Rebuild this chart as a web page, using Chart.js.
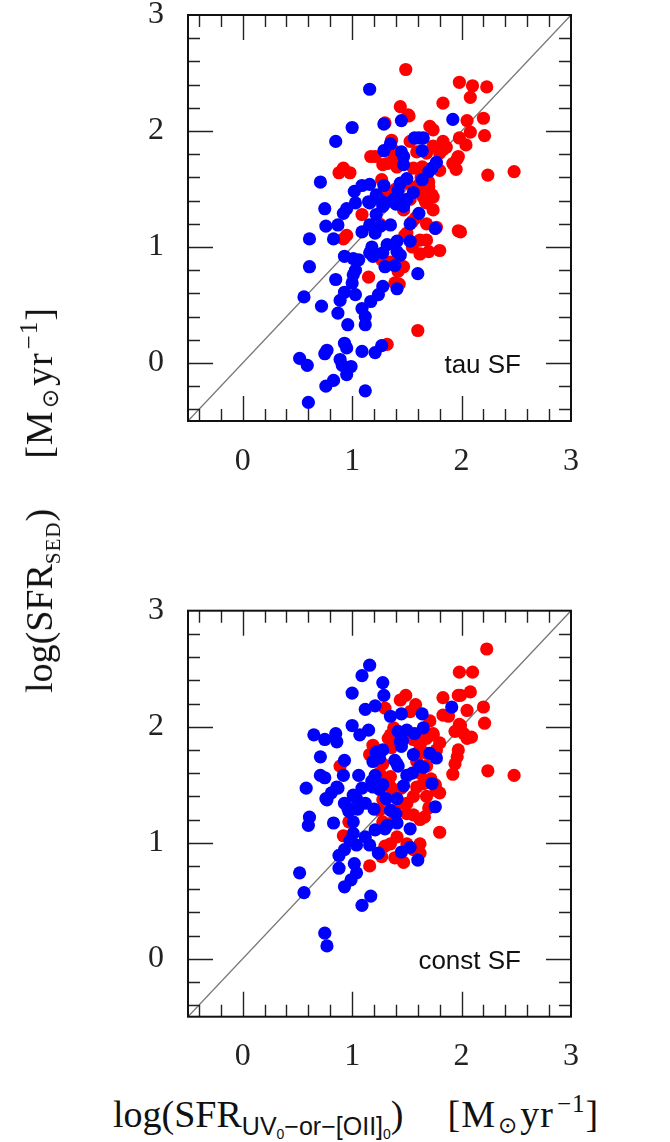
<!DOCTYPE html>
<html>
<head>
<meta charset="utf-8">
<script src="https://cdn.jsdelivr.net/npm/chart.js"></script>
<style>
  html, body { margin: 0; padding: 0; background: #fff; }
  #page { position: relative; width: 670px; height: 1142px; overflow: hidden; }
  canvas { position: absolute; left: 0; }
  #top { top: -55px; }
  #bottom { top: 540px; }
  .title { position: absolute; white-space: nowrap; font-family: "Liberation Serif", "DejaVu Serif", serif; font-size: 38px; color: #111; line-height: 1; }
  .title sub, .title sup { line-height: 0; }
  .sub-sans { font-family: "Liberation Sans", Arial, sans-serif; font-size: 25px; vertical-align: -8px; }
  .sub-sans sub { font-size: 14px; vertical-align: -4px; }
  .sub-serif { font-size: 21px; vertical-align: -8px; letter-spacing: 1px; }
  .sun { font-family: "DejaVu Sans", sans-serif; font-size: 23px; vertical-align: -6px; margin: 0 2px; }
  .exp { font-size: 25px; vertical-align: 15px; margin-left: 3px; }
  .unit { margin-left: 44px; letter-spacing: 1px; }
  #xtitle { left: 113px; top: 1091px; }
  #ytitle { left: 40px; top: 500px; transform: translate(-50%, -50%) rotate(-90deg); }
  #ytitle .unit { margin-left: 50px; }
</style>
</head>
<body>
<div id="page">
  <canvas id="top" width="670" height="555"></canvas>
  <canvas id="bottom" width="670" height="540"></canvas>
  <div class="title" id="ytitle">log(SFR<span class="sub-serif">SED</span>)<span class="unit">[M<span class="sun">⊙</span>yr<span class="exp">−1</span>]</span></div>
  <div class="title" id="xtitle">log(SFR<span class="sub-sans">UV<sub>0</sub>−or−[OII]<sub>0</sub></span>)<span class="unit">[M<span class="sun">⊙</span>yr<span class="exp">−1</span>]</span></div>
</div>
<script>
// tick labels
const tickValues = [0, 1, 2, 3];

// tau SF panel
const tauRed = [
  [1.49,2.53],[1.98,2.42],[2.10,2.39],[2.23,2.38],[2.08,2.29],[1.83,2.24],[1.44,2.21],[1.52,2.13],
  [1.30,2.07],[2.05,2.09],[2.20,2.11],[2.08,1.99],[2.21,1.96],[1.71,2.04],[1.74,2.01],[1.98,1.94],
  [2.04,1.88],[1.83,1.91],[1.53,1.91],[1.36,1.92],[1.74,1.87],[1.83,1.84],[1.86,1.86],[1.17,1.78],
  [1.21,1.78],[1.37,1.84],[1.46,1.78],[1.59,1.82],[1.68,1.81],[1.80,1.81],[1.97,1.78],[1.92,1.72],
  [1.95,1.67],[2.24,1.62],[2.48,1.65],[1.28,1.71],[1.32,1.72],[0.92,1.68],[0.88,1.64],[0.98,1.64],
  [1.41,1.69],[1.56,1.68],[1.64,1.69],[1.80,1.66],[1.27,1.58],[1.32,1.48],[1.63,1.60],[1.70,1.56],
  [1.66,1.48],[1.73,1.45],[1.67,1.39],[1.74,1.32],[1.09,1.28],[1.47,1.32],[1.53,1.41],[1.68,1.38],
  [1.55,1.22],[1.68,1.20],[1.76,1.16],[1.97,1.14],[0.95,1.10],[0.92,1.07],[1.48,1.10],[1.62,1.06],
  [1.68,1.06],[1.80,0.97],[1.70,0.96],[1.62,0.94],[1.27,0.89],[1.35,0.87],[1.47,0.83],[1.42,0.79],
  [1.15,0.74],[1.39,0.69],[1.43,0.68],[1.60,0.28],[1.32,0.16],[1.99,1.13],[1.40,1.50],[1.50,1.55],
  [1.58,1.25],[1.55,1.00],[1.25,1.20],[1.38,1.77],[1.59,1.52],[1.70,1.52],[1.65,1.43],[1.74,1.43],
  [1.50,1.12],[1.77,1.17],[1.96,1.76],[1.51,2.14]
];
const tauBlue = [
  [1.16,2.36],[1.45,2.09],[1.29,2.06],[1.92,2.10],[1.00,2.03],[0.85,1.91],[1.57,1.94],[1.65,1.94],
  [1.61,1.94],[1.35,1.89],[1.29,1.83],[1.45,1.82],[1.47,1.78],[1.47,1.71],[1.64,1.83],[1.77,1.73],
  [1.73,1.68],[1.70,1.65],[1.64,1.58],[1.50,1.59],[1.44,1.55],[1.42,1.49],[1.29,1.53],[1.16,1.54],
  [1.09,1.53],[1.02,1.48],[0.71,1.56],[0.75,1.33],[1.22,1.45],[1.25,1.41],[1.15,1.39],[1.28,1.35],
  [1.38,1.41],[1.42,1.42],[1.56,1.47],[1.50,1.41],[1.47,1.35],[1.03,1.38],[0.95,1.33],[0.92,1.29],
  [1.61,1.29],[1.22,1.28],[1.16,1.38],[1.30,1.38],[1.40,1.37],[0.76,1.18],[0.87,1.19],[0.61,1.07],
  [0.83,1.07],[1.09,1.13],[1.16,1.19],[1.21,1.12],[1.26,1.18],[1.35,1.19],[1.53,1.20],[1.76,1.16],
  [1.53,1.05],[1.41,1.05],[1.32,1.02],[1.18,1.00],[1.16,0.95],[1.41,0.96],[1.44,0.93],[1.28,0.95],
  [1.30,0.83],[1.39,0.84],[1.19,0.92],[0.93,0.92],[1.01,0.90],[1.06,0.89],[1.03,0.80],[1.01,0.76],
  [1.00,0.69],[0.61,0.83],[1.60,0.77],[0.85,0.72],[1.28,0.66],[1.24,0.59],[1.17,0.53],[1.41,0.64],
  [0.93,0.61],[0.89,0.54],[1.03,0.59],[0.56,0.57],[0.72,0.49],[0.87,0.43],[1.09,0.47],[1.12,0.40],
  [1.12,0.33],[0.96,0.33],[0.93,0.17],[0.95,0.13],[0.77,0.11],[0.75,0.08],[1.09,0.10],[1.21,0.09],
  [1.27,0.15],[0.52,0.04],[0.59,-0.02],[0.89,0.03],[0.91,-0.02],[0.99,-0.03],[0.95,-0.10],[0.83,-0.15],
  [0.76,-0.20],[1.12,-0.24],[0.60,-0.34]
];

// const SF panel
const constRed = [
  [2.23,2.67],[1.98,2.47],[2.10,2.47],[2.08,2.30],[1.97,2.27],[1.83,2.25],[1.44,2.23],[1.49,2.27],
  [1.58,2.19],[1.53,2.13],[1.30,2.16],[2.20,2.17],[2.05,2.14],[1.83,2.10],[1.88,2.09],[1.71,2.05],
  [2.21,2.03],[1.98,2.02],[1.94,1.96],[1.38,1.99],[1.35,1.93],[1.74,1.93],[1.68,1.90],[1.62,1.84],
  [2.05,1.90],[2.09,1.91],[1.33,1.90],[1.19,1.84],[1.16,1.76],[1.36,1.82],[1.97,1.80],[1.96,1.74],
  [1.94,1.68],[1.92,1.59],[2.24,1.62],[2.48,1.58],[0.89,1.66],[1.59,1.70],[0.97,1.18],[0.92,1.06],
  [1.16,0.80],[1.27,0.88],[1.30,0.97],[1.35,0.99],[1.39,0.87],[1.47,0.83],[1.41,1.05],[1.50,0.99],
  [1.56,0.94],[1.62,0.99],[1.62,0.91],[1.80,1.09],[1.28,1.18],[1.39,1.21],[1.50,1.25],[1.56,1.24],
  [1.62,1.20],[1.66,1.22],[1.56,1.89],[1.62,1.89],[1.74,1.94],[1.80,1.86],[1.77,1.80],[1.68,1.77],
  [1.59,1.77],[1.68,1.66],[1.62,1.60],[1.65,1.51],[1.59,1.48],[1.68,1.40],[1.77,1.45],[1.80,1.43],
  [1.56,1.40],[1.50,1.34],[1.44,1.34],[1.28,1.68],[1.25,1.60],[1.35,1.57],[1.35,1.48],[1.38,1.40],
  [1.25,1.28],[1.28,1.37],[1.99,2.27],[1.99,2.01],[2.02,1.94],[1.45,1.47],[1.70,1.30],[1.20,1.78],
  [1.72,1.55],[1.76,1.50]
];
const constBlue = [
  [1.16,2.53],[1.09,2.44],[1.28,2.38],[1.29,2.27],[1.00,2.29],[1.21,2.18],[1.12,2.15],[1.35,2.09],
  [1.45,2.11],[1.64,2.11],[1.91,2.17],[1.00,2.01],[1.07,1.93],[1.15,1.97],[0.65,1.93],[0.75,1.89],
  [0.85,1.94],[0.86,1.87],[0.71,1.74],[1.42,1.96],[1.50,1.97],[1.57,1.94],[1.65,1.99],[1.45,1.83],
  [1.46,1.88],[1.28,1.80],[1.24,1.76],[1.56,1.76],[1.41,1.68],[1.42,1.66],[1.19,1.70],[1.71,1.77],
  [1.77,1.73],[0.93,1.71],[0.71,1.58],[0.75,1.56],[0.92,1.58],[1.06,1.58],[1.21,1.58],[1.18,1.53],
  [1.50,1.58],[1.55,1.60],[1.62,1.66],[1.65,1.65],[1.73,1.51],[1.28,1.50],[1.25,1.46],[0.58,1.47],
  [0.86,1.48],[0.81,1.43],[0.77,1.37],[0.93,1.34],[0.97,1.27],[1.76,1.31],[0.61,1.22],[0.60,1.15],
  [0.83,1.17],[1.01,1.18],[1.01,1.08],[0.98,1.02],[1.04,0.98],[0.93,0.94],[0.88,0.89],[0.88,0.78],
  [1.12,1.05],[1.16,0.98],[1.21,1.11],[1.30,1.12],[1.32,1.15],[1.24,0.91],[1.02,0.82],[1.04,0.74],
  [0.99,0.68],[0.93,0.62],[1.45,0.92],[1.53,0.96],[1.53,1.12],[1.60,0.85],[1.40,1.25],[1.41,1.17],
  [0.52,0.74],[0.56,0.57],[1.09,0.46],[1.17,0.54],[0.75,0.22],[0.77,0.11],[0.87,1.47],[1.01,1.41],
  [1.04,1.38],[1.09,1.47],[1.12,1.34],[1.31,1.38],[1.41,1.38],[1.47,1.49],[1.19,1.48],[1.39,1.71],
  [1.22,1.78],[1.25,1.73],[0.96,1.30],[1.05,1.29],[1.20,1.29],[1.35,1.28],[0.76,1.38],[1.44,1.87]
];

const axisMin = -0.5, axisMax = 3;

const toPts = arr => arr.map(([x, y]) => ({x, y}));

// frame, inward ticks on all four sides and the panel label
const frameTicks = {
  id: 'frameTicks',
  afterDatasetsDraw(chart, args, opts) {
    const {ctx, chartArea: a, scales: {x, y}} = chart;
    ctx.save();
    ctx.strokeStyle = '#222';
    ctx.lineWidth = 1.4;
    ctx.beginPath();
    for (let i = -2; i <= 15; i++) {
      const v = i / 5;
      const len = (i % 5 === 0) ? 25 : 12;
      const px = Math.round(x.getPixelForValue(v)) + 0.5;
      const py = Math.round(y.getPixelForValue(v)) + 0.5;
      if (v > axisMin && v < axisMax) {
        ctx.moveTo(px, a.bottom); ctx.lineTo(px, a.bottom - len);
        ctx.moveTo(px, a.top); ctx.lineTo(px, a.top + len);
        ctx.moveTo(a.left, py); ctx.lineTo(a.left + len, py);
        ctx.moveTo(a.right, py); ctx.lineTo(a.right - len, py);
      }
    }
    ctx.stroke();
    ctx.lineWidth = 2;
    ctx.strokeStyle = '#111';
    ctx.strokeRect(a.left, a.top, a.right - a.left, a.bottom - a.top);
    ctx.fillStyle = '#111';
    ctx.font = '26px "Liberation Sans", Arial, sans-serif';
    ctx.textAlign = 'right';
    ctx.textBaseline = 'middle';
    ctx.fillText(opts.label, a.right - 50, a.bottom - 55);
    ctx.restore();
  }
};

function makePanel(id, red, blue, label, padTop, xHeight) {
  const tickFont = {family: '"Liberation Serif", "DejaVu Serif", serif', size: 32};
  new Chart(document.getElementById(id), {
    type: 'scatter',
    data: {
      datasets: [
        {data: toPts(blue), backgroundColor: '#0000ff', borderWidth: 0, pointRadius: 6.6},
        {data: toPts(red), backgroundColor: '#ff0000', borderWidth: 0, pointRadius: 6.6},
        {type: 'line', data: [{x: axisMin, y: axisMin}, {x: axisMax, y: axisMax}],
         borderColor: '#777', borderWidth: 1.3, pointRadius: 0, fill: false}
      ]
    },
    options: {
      responsive: false,
      animation: false,
      events: [],
      layout: {padding: {top: padTop, right: 99, left: 0, bottom: 0}},
      plugins: {legend: {display: false}, tooltip: {enabled: false}, frameTicks: {label}},
      scales: {
        x: {
          type: 'linear', min: axisMin, max: axisMax,
          grid: {display: false}, border: {display: false},
          afterBuildTicks: s => { s.ticks = tickValues.map(v => ({value: v})); },
          afterFit: s => { s.height = xHeight; },
          ticks: {font: tickFont, color: '#222', padding: 13, maxRotation: 0}
        },
        y: {
          type: 'linear', min: axisMin, max: axisMax,
          grid: {display: false}, border: {display: false},
          afterBuildTicks: s => { s.ticks = tickValues.map(v => ({value: v})); },
          afterFit: s => { s.width = 188; },
          ticks: {font: tickFont, color: '#222', padding: 16}
        }
      }
    },
    plugins: [frameTicks]
  });
}

makePanel('top', tauRed, tauBlue, 'tau SF', 70, 79);
makePanel('bottom', constRed, constBlue, 'const SF', 70.7, 63.3);
</script>
</body>
</html>
